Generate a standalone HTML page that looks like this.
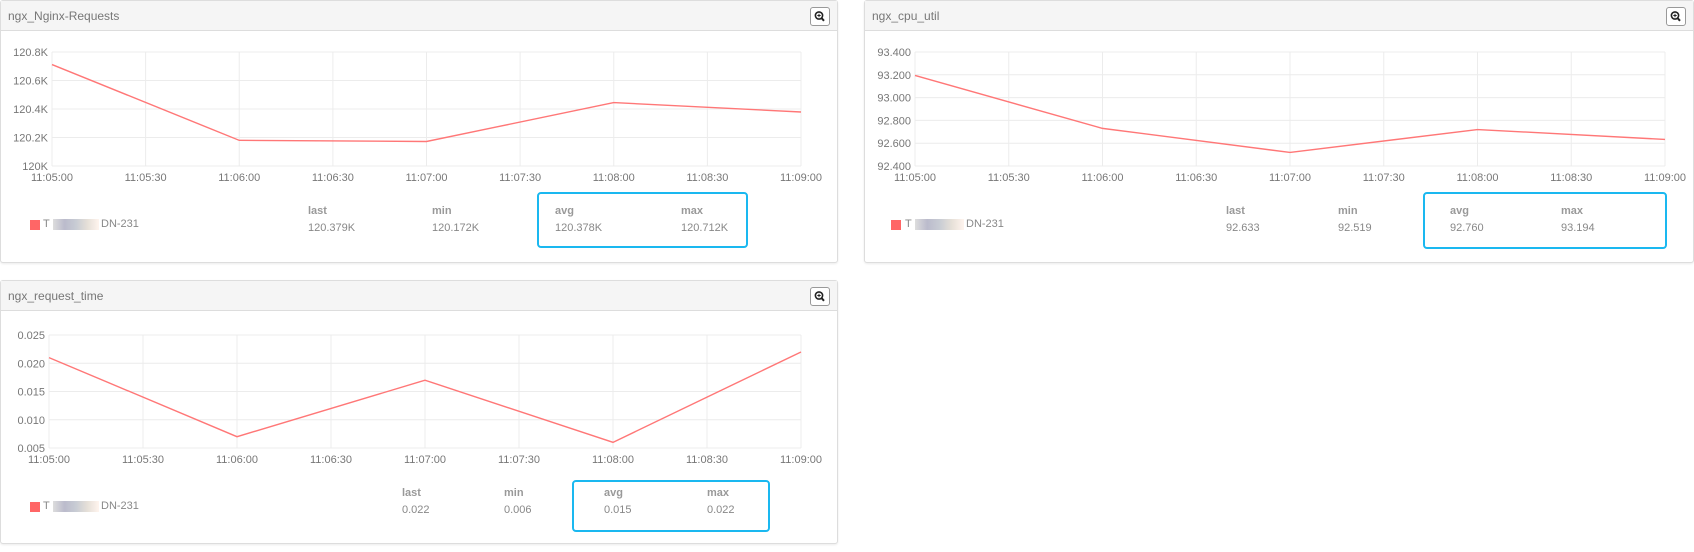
<!DOCTYPE html>
<html><head><meta charset="utf-8">
<style>
body{margin:0;width:1694px;height:552px;background:#fff;position:relative;overflow:hidden;font-family:"Liberation Sans",sans-serif;}
.panel{position:absolute;border:1px solid #ddd;border-radius:3px;background:#fff;box-shadow:0 1px 2px rgba(0,0,0,0.08);box-sizing:border-box;}
.hdr{position:absolute;left:0;top:0;right:0;height:29px;background:#f5f5f5;border-bottom:1px solid #ddd;}
.title{position:absolute;left:7px;top:8px;font-size:12px;color:#777;}
.btn{position:absolute;width:20px;height:19px;top:6px;border:1px solid #999;border-radius:3px;background:#fff;box-sizing:border-box;}
.t{position:absolute;font-size:11px;color:#777;white-space:nowrap;}
.lh{position:absolute;font-size:11px;color:#999;font-weight:bold;}
.lv{position:absolute;font-size:11px;color:#888;}
.box{position:absolute;border:2px solid #1ab8f0;border-radius:4px;box-sizing:border-box;}
.sw{position:absolute;width:10px;height:10px;background:#f66;}
.blur{position:absolute;height:11px;background:linear-gradient(90deg,#ddd,#bbc,#c8ccd4,#e6e0d8,#fff4ee);}
svg{position:absolute;left:0;top:0;}
</style></head><body>
<svg id="svg" width="1694" height="552"></svg>
<script>
const times=["11:05:00","11:05:30","11:06:00","11:06:30","11:07:00","11:07:30","11:08:00","11:08:30","11:09:00"];
const reqValues=[120.712,120.18,120.172,120.445,120.379];
const reqTicks=["120K","120.2K","120.4K","120.6K","120.8K"];
const cpuValues=[93.194,92.73,92.519,92.72,92.633];
const cpuTicks=["92.400","92.600","92.800","93.000","93.200","93.400"];
const rtValues=[0.021,0.007,0.017,0.006,0.022];
const rtTicks=["0.005","0.010","0.015","0.020","0.025"];
const reqStats=["120.379K","120.172K","120.378K","120.712K"];
const cpuStats=["92.633","92.519","92.760","93.194"];
const rtStats=["0.022","0.006","0.015","0.022"];
const statNames=["last","min","avg","max"];

const panels=[
 {name:"nginx-requests",title:"ngx_Nginx-Requests",px:0,py:0,pw:838,ph:263,x0:52,x1:801,y0:166,y1:52,min:120,max:120.8,vals:reqValues,ticks:reqTicks,
  stats:reqStats,cols:[308,432,555,681],lh:205,lv:222,box:[537,192,211,56],sw:[30,220],nm:[43,101]},
 {name:"cpu-util",title:"ngx_cpu_util",px:864,py:0,pw:830,ph:263,x0:915,x1:1665,y0:166,y1:52,min:92.4,max:93.4,vals:cpuValues,ticks:cpuTicks,
  stats:cpuStats,cols:[1226,1338,1450,1561],lh:205,lv:222,box:[1423,192,244,57],sw:[891,220],nm:[905,966]},
 {name:"request-time",title:"ngx_request_time",px:0,py:280,pw:838,ph:264,x0:49,x1:801,y0:448,y1:335,min:0.005,max:0.025,vals:rtValues,ticks:rtTicks,
  stats:rtStats,cols:[402,504,604,707],lh:487,lv:504,box:[572,480,198,52],sw:[30,502],nm:[43,101]}
];
const svg=document.getElementById('svg');
const NS="http://www.w3.org/2000/svg";
function mk(tag,attrs){const e=document.createElementNS(NS,tag);for(const k in attrs)e.setAttribute(k,attrs[k]);svg.appendChild(e);return e;}
panels.forEach(p=>{
 const d=document.createElement('div');d.className='panel';
 
 
 d.style.cssText=`left:${p.px}px;top:${p.py}px;width:${p.pw}px;height:${p.ph}px`;
 d.innerHTML=`<div class="hdr"><span class="title">${p.title}</span><div class="btn" style="right:7px"><svg width="18" height="17" style="position:absolute;left:0;top:0"><circle cx="8" cy="7.5" r="3.6" fill="none" stroke="#222" stroke-width="1.6"/><line x1="10.5" y1="10" x2="13" y2="12.8" stroke="#222" stroke-width="2"/><line x1="6.3" y1="7.5" x2="9.7" y2="7.5" stroke="#222" stroke-width="1"/><line x1="8" y1="5.8" x2="8" y2="9.2" stroke="#222" stroke-width="1"/></svg></div></div>`;
 document.body.insertBefore(d,svg);
 const xs=i=>p.x0+(p.x1-p.x0)*i/(times.length-1);
 const ys=v=>p.y0+(p.y1-p.y0)*(v-p.min)/(p.max-p.min);
 const n=p.ticks.length;
 p.ticks.forEach((t,i)=>{
  const y=p.y0+(p.y1-p.y0)*i/(n-1);
  const l=mk('line',{x1:p.x0,x2:p.x1,y1:y,y2:y,stroke:'#ececec','stroke-width':1});
  
  
  const tx=mk('text',{x:p.x0-4,y:y+4,'text-anchor':'end','font-size':11,fill:'#777','font-family':'Liberation Sans, sans-serif'});
  tx.textContent=t;
  
  
 });
 times.forEach((t,i)=>{
  const x=xs(i);
  const l=mk('line',{x1:x,x2:x,y1:p.y1,y2:p.y0,stroke:'#ececec','stroke-width':1});
  
  
  const tx=mk('text',{x:x,y:p.y0+15,'text-anchor':'middle','font-size':11,fill:'#777','font-family':'Liberation Sans, sans-serif'});
  tx.textContent=t;
  
  
 });
 const pts=p.vals.map((v,i)=>xs(i*2)+','+ys(v)).join(' ');
 const pl=mk('polyline',{points:pts,fill:'none',stroke:'#f77','stroke-width':1.4});
 
 
 // legend
 const sw=document.createElement('div');sw.className='sw';sw.style.cssText=`left:${p.sw[0]}px;top:${p.sw[1]}px`;
 
 
 document.body.appendChild(sw);
 const nm=document.createElement('div');nm.className='lv';nm.style.cssText=`left:${p.nm[0]}px;top:${p.sw[1]-2}px`;nm.textContent='T';
 
 
 document.body.appendChild(nm);
 const bl=document.createElement('div');bl.className='blur';bl.style.cssText=`left:${p.nm[0]+10}px;top:${p.sw[1]-1}px;width:${p.nm[1]-p.nm[0]-12}px`;
 
 
 document.body.appendChild(bl);
 const nm2=document.createElement('div');nm2.className='lv';nm2.style.cssText=`left:${p.nm[1]}px;top:${p.sw[1]-2}px`;nm2.textContent='DN-231';
 
 
 document.body.appendChild(nm2);
 statNames.forEach((s,i)=>{
  const h=document.createElement('div');h.className='lh';h.style.cssText=`left:${p.cols[i]}px;top:${p.lh}px`;h.textContent=s;
  
  
  document.body.appendChild(h);
  const v=document.createElement('div');v.className='lv';v.style.cssText=`left:${p.cols[i]}px;top:${p.lv}px`;v.textContent=p.stats[i];
  
  
  document.body.appendChild(v);
 });
 const b=document.createElement('div');b.className='box';b.style.cssText=`left:${p.box[0]}px;top:${p.box[1]}px;width:${p.box[2]}px;height:${p.box[3]}px`;
 
 
 document.body.appendChild(b);
});
</script>
</body></html>
